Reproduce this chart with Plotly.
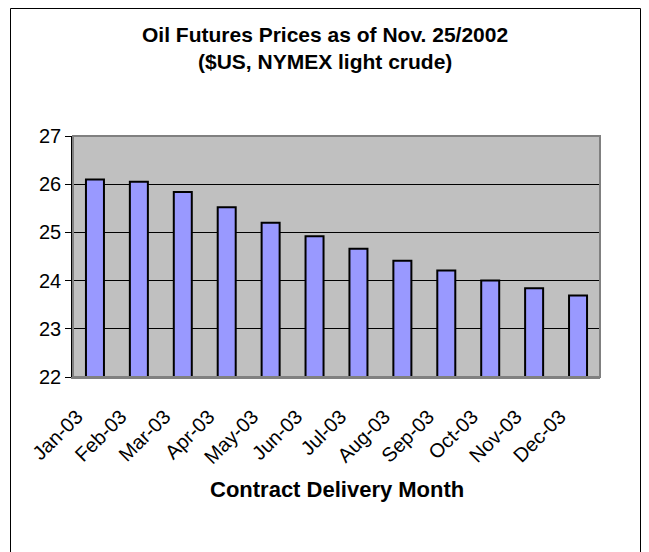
import plotly.graph_objects as go

months = ["Jan-03", "Feb-03", "Mar-03", "Apr-03", "May-03", "Jun-03",
          "Jul-03", "Aug-03", "Sep-03", "Oct-03", "Nov-03", "Dec-03"]
prices = [26.10, 26.05, 25.84, 25.52, 25.20, 24.92,
          24.66, 24.41, 24.21, 24.00, 23.84, 23.69]
y_ticks = [22, 23, 24, 25, 26, 27]

# the page has an 8px body margin, so work in figure pixels = page - 8
OFF = 8
W, H = 649 - OFF, 552 - OFF
L, R, T, B = 73 - OFF, 600 - OFF, 136 - OFF, 377 - OFF  # plot area

def px(x):  # page pixel -> paper
    return (x - OFF - L) / (R - L)

def py(y):
    return 1 - (y - OFF - T) / (B - T)

FONT = "Liberation Sans, Arial, sans-serif"

fig = go.Figure(go.Bar(
    x=months, y=prices, width=0.41,
    marker=dict(color="#9999FF", line=dict(color="black", width=2)),
    hoverinfo="x+y",
))

fig.update_layout(
    width=W, height=H,
    margin=dict(l=L, r=W - R, t=T, b=H - B, pad=0),
    paper_bgcolor="white", plot_bgcolor="#C0C0C0",
    showlegend=False,
    font=dict(family=FONT, color="black", size=20),
    xaxis=dict(
        type="category", tickangle=-45, showgrid=False,
        showline=True, linecolor="#808080", linewidth=2,
        ticks="", tickfont=dict(size=20),
        ticklabelstandoff=18, ticklabelshift=-18,
        automargin=False,
    ),
    yaxis=dict(
        range=[22, 27], tickvals=y_ticks, showgrid=True, gridcolor="black", gridwidth=1,
        showline=True, linecolor="black", linewidth=1.5,
        ticks="outside", ticklen=6, tickcolor="black", tickwidth=1,
        tickfont=dict(size=20), zeroline=False, automargin=False,
    ),
)

fig.add_annotation(text="<b>Contract Delivery Month</b>", xref="paper", yref="paper",
                   x=px(337), y=py(489), showarrow=False, font=dict(size=22),
                   xanchor="center", yanchor="middle")

fig.add_annotation(text="<b>Oil Futures Prices as of Nov. 25/2002</b>", xref="paper", yref="paper",
                   x=px(325), y=py(35), showarrow=False, font=dict(size=21),
                   xanchor="center", yanchor="middle")
fig.add_annotation(text="<b>($US, NYMEX light crude)</b>", xref="paper", yref="paper",
                   x=px(325), y=py(61), showarrow=False, font=dict(size=21),
                   xanchor="center", yanchor="middle")

fig.add_shape(type="rect", xref="paper", yref="paper", x0=0, y0=0, x1=1, y1=1,
              line=dict(color="#808080", width=2), layer="above")
fig.add_shape(type="rect", xref="paper", yref="paper",
              x0=px(10.5), y0=py(580), x1=px(640.5), y1=py(8.5),
              line=dict(color="black", width=1))

fig.write_html("out.html")
